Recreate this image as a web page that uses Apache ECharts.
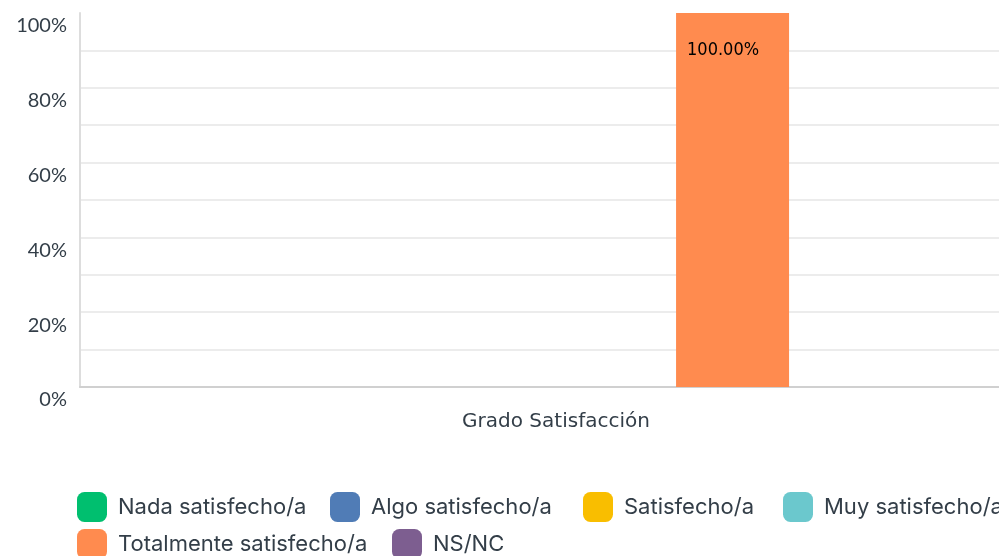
<!DOCTYPE html>
<html>
<head>
<meta charset="utf-8">
<style>
  html, body { margin: 0; padding: 0; background: #fff; }
  #main { width: 999px; height: 556px; }
</style>
<script src="https://cdn.jsdelivr.net/npm/echarts@6/dist/echarts.min.js"></script>
</head>
<body>
<div id="main"></div>
<script>
// datos de la pregunta
const categories = ['Grado Satisfacción']
const seriesNames = ['Nada satisfecho/a', 'Algo satisfecho/a', 'Satisfecho/a', 'Muy satisfecho/a', 'Totalmente satisfecho/a', 'NS/NC']
const seriesValues = [[0], [0], [0], [0], [100], [0]]
const seriesColors = ['#00bf6f', '#507cb6', '#f9be00', '#6bc8cd', '#ff8b4f', '#7d5e90']
const yTickLabels = { 0: '0%', 20: '20%', 40: '40%', 60: '60%', 80: '80%', 100: '100%' }

const textColor = '#333e48'

const chart = echarts.init(document.getElementById('main'))

// la linea superior (100%) no se ve en el original
const gridColors = []
for (let i = 0; i < 10; i++) gridColors.push('#ececec')
gridColors.push('#ffffff')

// posicion de cada elemento de la leyenda (dos filas)
const legendSlots = [
  [72, 487], [325, 487], [578, 487], [778, 487],
  [72, 524], [387, 524]
]

const legends = seriesNames.map((name, i) => ({
  data: [name],
  left: legendSlots[i][0],
  top: legendSlots[i][1],
  icon: 'roundRect',
  itemWidth: 30,
  itemHeight: 30,
  textStyle: {
    color: textColor,
    fontFamily: 'Inter',
    fontSize: 22,
    padding: [0, 0, 0, 6]
  }
}))

const option = {
  animation: false,
  grid: {
    left: 80,
    top: 13,
    right: 0,
    bottom: 169,
    containLabel: false
  },
  legend: legends,
  xAxis: {
    type: 'category',
    data: categories,
    axisTick: { show: false },
    axisLine: { lineStyle: { color: '#d0d0d0', width: 2 } },
    axisLabel: {
      color: textColor,
      fontFamily: 'DejaVu Sans',
      fontSize: 20,
      margin: 25,
      padding: [0, 0, 0, 33]
    }
  },
  yAxis: {
    type: 'value',
    min: 0,
    max: 100,
    interval: 10,
    axisLine: { show: true, lineStyle: { color: '#dddddd', width: 2 } },
    axisTick: { show: false },
    splitLine: { lineStyle: { color: gridColors, width: 2 } },
    axisLabel: {
      color: textColor,
      fontFamily: 'Lato',
      fontSize: 20,
      margin: 13,
      verticalAlign: 'top',
      padding: [3, 0, 0, 0],
      formatter: v => yTickLabels[v] || ''
    }
  },
  series: seriesNames.map((name, i) => ({
    name: name,
    type: 'bar',
    data: seriesValues[i],
    barWidth: 113,
    barGap: '13.9%',
    itemStyle: { color: seriesColors[i] },
    label: {
      show: true,
      position: [11, 28],
      color: '#000',
      fontFamily: '"DejaVu Sans Condensed", "Liberation Sans", sans-serif',
      fontSize: 18,
      formatter: p => (p.value > 0 ? p.value.toFixed(2) + '%' : '')
    }
  }))
}

chart.setOption(option)
</script>
</body>
</html>
